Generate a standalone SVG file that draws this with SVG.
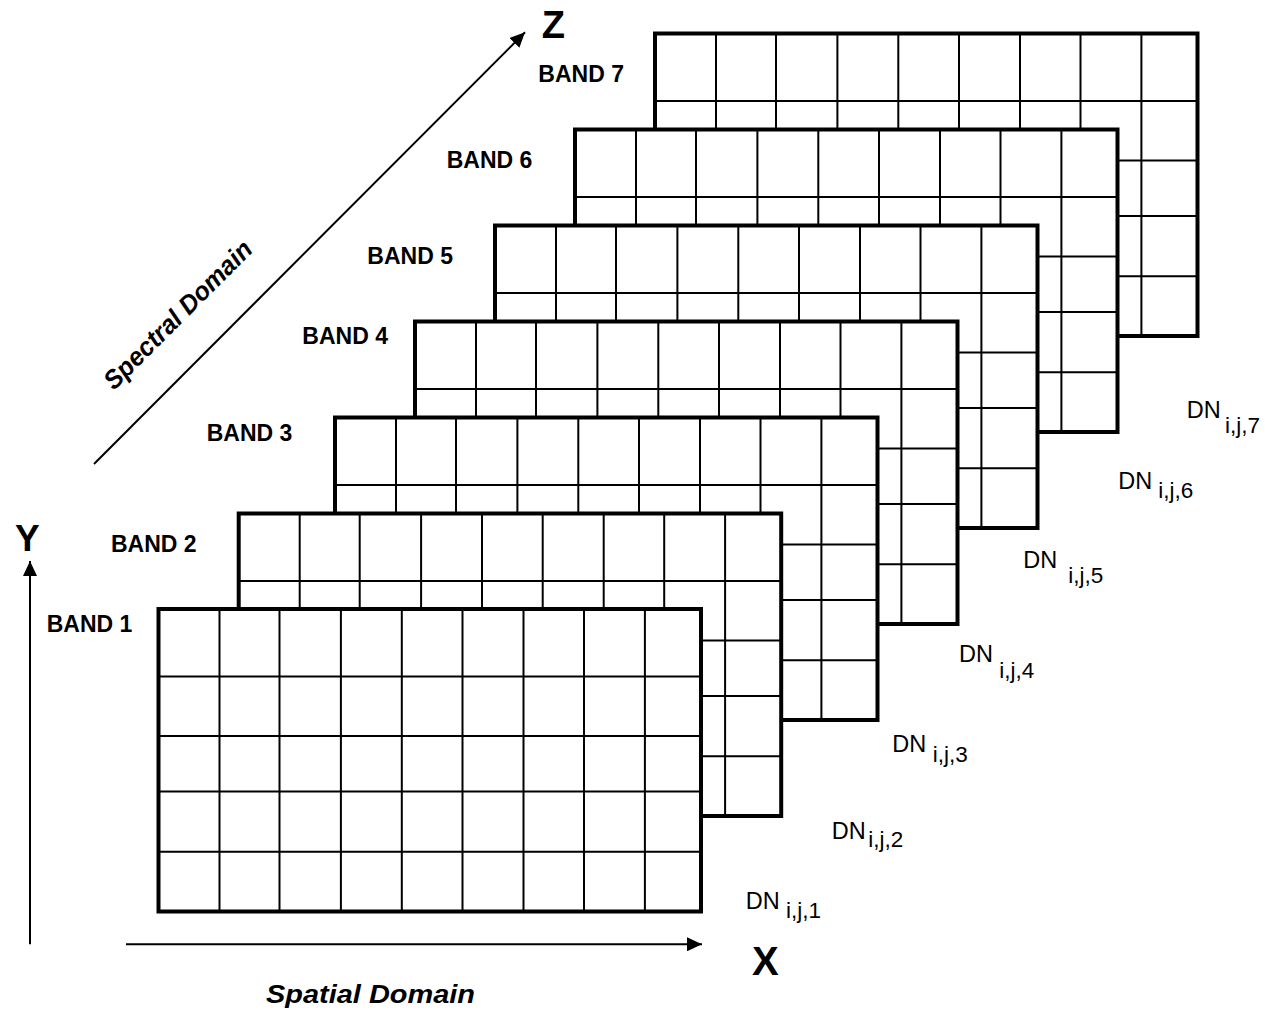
<svg xmlns="http://www.w3.org/2000/svg" xmlns:xlink="http://www.w3.org/1999/xlink" width="1265" height="1015" viewBox="0 0 1265 1015">
<style>
text{font-family:"Liberation Sans",Arial,Helvetica,sans-serif;fill:#000}
.band{font-size:23px;font-weight:bold}
.axis{font-weight:bold}
.dom{font-size:26px;font-weight:bold;font-style:italic}
.dn{font-size:23.5px}
.sub{font-size:22.5px}
.cell{stroke:#000;stroke-width:2;fill:none}
.frame{stroke:#000;stroke-width:4;fill:none}
.conn{stroke:#000;stroke-width:2;fill:none}
</style>
<defs>
<marker id="ah" viewBox="0 0 15 14" refX="15" refY="7" markerWidth="15" markerHeight="14" markerUnits="userSpaceOnUse" orient="auto">
<path d="M0,0 L15,7 L0,14 z" fill="#000"/>
</marker>
<g id="grid">
<rect x="0" y="0" width="542.5" height="302.5" fill="#fff"/>
<path class="cell" d="M61,0V302.5M121,0V302.5M182.4,0V302.5M243.3,0V302.5M304,0V302.5M365,0V302.5M425.5,0V302.5M486.4,0V302.5M0,67.6H542.5M0,127H542.5M0,182.5H542.5M0,242.8H542.5"/>
<rect class="frame" x="0" y="0" width="542.5" height="302.5"/>
</g>
</defs>
<rect width="1265" height="1015" fill="#fff"/>

<g id="band7">
<use xlink:href="#grid" x="655" y="33.5"/>
<text class="band" x="538.3" y="81.7">BAND 7</text>
<text class="dn" x="1186.7" y="418.3">DN</text><text class="sub" x="1225" y="433.3">i,j,7</text>
</g>
<g id="band6">
<use xlink:href="#grid" x="575" y="129.5"/>
<text class="band" x="446.7" y="167.7">BAND 6</text>
<text class="dn" x="1118.3" y="489">DN</text><text class="sub" x="1158.3" y="498.3">i,j,6</text>
</g>
<g id="band5">
<use xlink:href="#grid" x="495" y="225.5"/>
<text class="band" x="367.3" y="264">BAND 5</text>
<text class="dn" x="1023.3" y="567.7">DN</text><text class="sub" x="1068.3" y="582.7">i,j,5</text>
</g>
<g id="band4">
<use xlink:href="#grid" x="415" y="321.5"/>
<text class="band" x="302.3" y="344">BAND 4</text>
<text class="dn" x="959" y="661.7">DN</text><text class="sub" x="999.3" y="678.3">i,j,4</text>
</g>
<g id="band3">
<use xlink:href="#grid" x="335" y="417.5"/>
<text class="band" x="206.7" y="440.7">BAND 3</text>
<text class="dn" x="892.3" y="751.7">DN</text><text class="sub" x="932.7" y="761.7">i,j,3</text>
</g>
<g id="band2">
<use xlink:href="#grid" x="238.7" y="513.5"/>
<text class="band" x="111" y="552.3">BAND 2</text>
<text class="dn" x="831.7" y="839">DN</text><text class="sub" x="868.3" y="846.7">i,j,2</text>
</g>
<g id="band1">
<use xlink:href="#grid" x="158.5" y="609"/>
<text class="band" x="46.7" y="632.3">BAND 1</text>
<text class="dn" x="745.7" y="909">DN</text><text class="sub" x="786" y="918.3">i,j,1</text>
</g>

<g id="connectors">
<line class="conn" x1="126" y1="944.3" x2="702" y2="944.3" marker-end="url(#ah)"/>
<line class="conn" x1="30" y1="944.3" x2="30" y2="561" marker-end="url(#ah)"/>
<line class="conn" x1="94" y1="464" x2="525" y2="32.3" marker-end="url(#ah)"/>
</g>

<g id="axis-labels">
<text class="axis" x="752" y="975" font-size="40">X</text>
<text class="axis" x="15" y="550.7" font-size="37">Y</text>
<text class="axis" x="541.7" y="38.3" font-size="38">Z</text>
<text class="dom" x="266" y="1002.5" textLength="209" lengthAdjust="spacingAndGlyphs">Spatial Domain</text>
<text class="dom" transform="translate(114,391) rotate(-45)" x="0" y="0" textLength="198" lengthAdjust="spacingAndGlyphs">Spectral Domain</text>
</g>
</svg>
